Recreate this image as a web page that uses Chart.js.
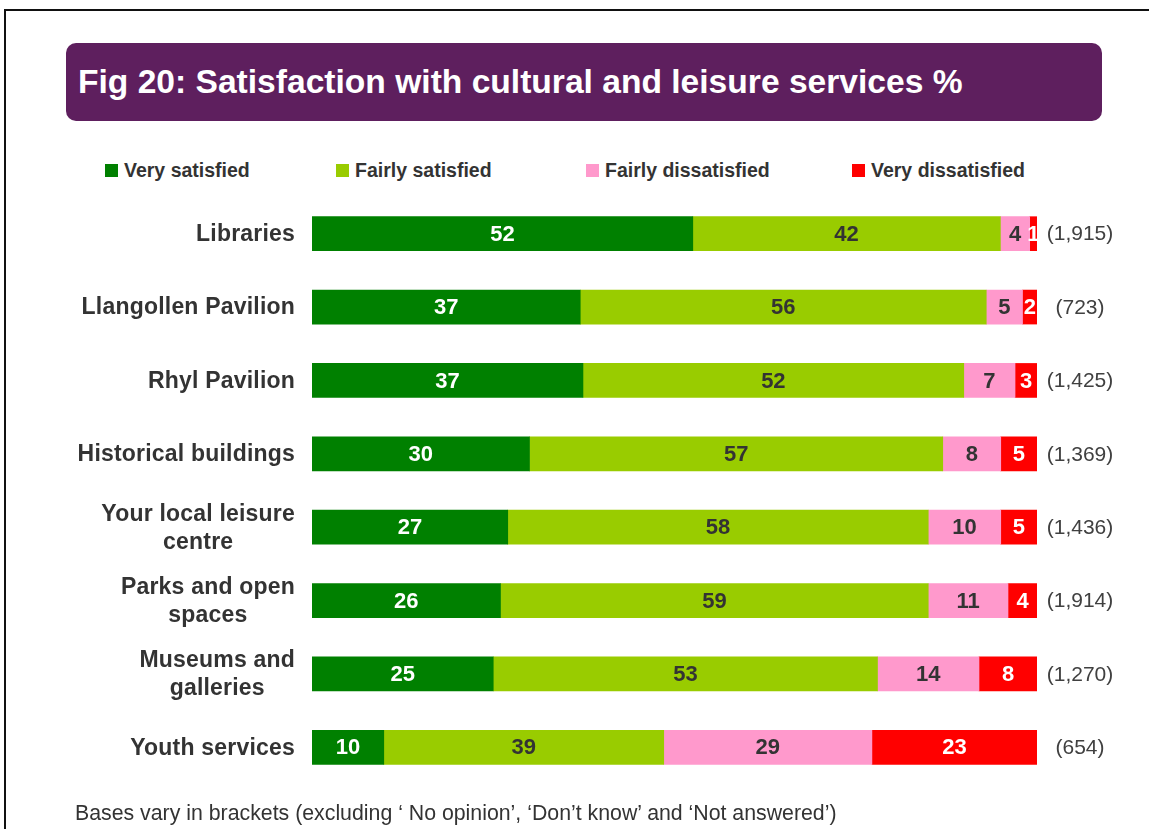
<!DOCTYPE html>
<html>
<head>
<meta charset="utf-8">
<script src="https://cdn.jsdelivr.net/npm/chart.js@4/dist/chart.umd.min.js"></script>
<style>
  html, body { margin: 0; padding: 0; background: #fff; }
  body { width: 1149px; height: 829px; position: relative; overflow: hidden; font-family: 'Liberation Sans', Arial, sans-serif; }
  #frame { position: absolute; left: 4px; top: 9px; width: 1160px; height: 840px; border-top: 2px solid #111; border-left: 2.5px solid #111; }
  #titlebox { position: absolute; left: 66px; top: 43px; width: 1036px; height: 78px; background: #5e1f5e; border-radius: 10px; }
  #title { position: absolute; left: 78px; top: 62px; color: #fff; font-weight: bold; font-size: 33.6px; line-height: 40px; white-space: nowrap; }
  #legend { position: absolute; left: 0; top: 158px; height: 24px; width: 1149px; }
  .item { position: absolute; top: 0; display: flex; align-items: center; height: 24px; white-space: nowrap; color: #333; font-weight: bold; font-size: 19.5px; }
  .sw { width: 13px; height: 13px; margin-right: 6px; }
  #foot { position: absolute; left: 75px; top: 800px; color: #333; font-size: 21.3px; line-height: 26px; white-space: nowrap; }
  canvas { position: absolute; left: 0; top: 0; }
</style>
</head>
<body>
<div id="frame"></div>
<div id="titlebox"></div>
<div id="title">Fig 20: Satisfaction with cultural and leisure services %</div>
<div id="legend"></div>
<canvas id="c" width="1149" height="829"></canvas>
<div id="foot">Bases vary in brackets (excluding ‘ No opinion’, ‘Don’t know’ and ‘Not answered’)</div>
<script>
const categories = [
  "Libraries",
  "Llangollen Pavilion",
  "Rhyl Pavilion",
  "Historical buildings",
  ["Your local leisure", "centre"],
  ["Parks and open", "spaces"],
  ["Museums and", "galleries"],
  "Youth services"
];
const seriesNames = ["Very satisfied", "Fairly satisfied", "Fairly dissatisfied", "Very dissatisfied"];
const verySatisfied      = [52, 37, 37, 30, 27, 26, 25, 10];
const fairlySatisfied    = [42, 56, 52, 57, 58, 59, 53, 39];
const fairlyDissatisfied = [4, 5, 7, 8, 10, 11, 14, 29];
const veryDissatisfied   = [1, 2, 3, 5, 5, 4, 8, 23];
const bases = [1915, 723, 1425, 1369, 1436, 1914, 1270, 654];

const colors = ["#008000", "#99cc00", "#ff99cc", "#ff0000"];
const labelColors = ["#ffffff", "#333333", "#333333", "#ffffff"];
const raw = [verySatisfied, fairlySatisfied, fairlyDissatisfied, veryDissatisfied];
const totals = categories.map((_, i) => raw.reduce((s, arr) => s + arr[i], 0));

const FONT = "'Liberation Sans', Arial, sans-serif";

const labelPlugin = {
  id: 'labels',
  afterDatasetsDraw(chart) {
    const ctx = chart.ctx;
    ctx.save();
    // values inside bars
    ctx.font = "bold 22px " + FONT;
    ctx.textAlign = 'center';
    ctx.textBaseline = 'middle';
    chart.data.datasets.forEach((ds, di) => {
      const meta = chart.getDatasetMeta(di);
      meta.data.forEach((el, i) => {
        ctx.fillStyle = labelColors[di];
        ctx.fillText(String(raw[di][i]), (el.x + el.base) / 2, el.y + 1);
      });
    });
    // category labels
    const yScale = chart.scales.y;
    ctx.fillStyle = '#333';
    ctx.font = "bold 23px " + FONT;
    if ('letterSpacing' in ctx) ctx.letterSpacing = '0.2px';
    const right = 295, lh = 28;
    categories.forEach((lab, i) => {
      const y = yScale.getPixelForValue(i);
      const lines = Array.isArray(lab) ? lab : [lab];
      const w = Math.max(...lines.map(l => ctx.measureText(l).width));
      const cx = right - w / 2;
      lines.forEach((l, k) => {
        ctx.textAlign = 'center';
        ctx.fillText(l, cx, y + (k - (lines.length - 1) / 2) * lh + 1);
      });
    });
    if ('letterSpacing' in ctx) ctx.letterSpacing = '0px';
    // bases
    ctx.font = "21px " + FONT;
    ctx.fillStyle = '#404040';
    ctx.textAlign = 'center';
    bases.forEach((b, i) => {
      const y = yScale.getPixelForValue(i);
      ctx.fillText('(' + b.toLocaleString('en-US') + ')', 1080, y + 1);
    });
    ctx.restore();
  }
};

const chart = new Chart(document.getElementById('c'), {
  type: 'bar',
  data: {
    labels: categories,
    datasets: seriesNames.map((name, di) => ({
      label: name,
      data: raw[di].map((v, i) => v / totals[i] * 100),
      backgroundColor: colors[di],
      borderWidth: 0,
      barThickness: 34
    }))
  },
  options: {
    indexAxis: 'y',
    responsive: false,
    animation: false,
    devicePixelRatio: 1,
    layout: { padding: { left: 312, right: 112, top: 197, bottom: 45 } },
    scales: {
      x: { stacked: true, min: 0, max: 100, display: false },
      y: { stacked: true, display: false }
    },
    plugins: { legend: { display: false }, tooltip: { enabled: false }, title: { display: false } }
  },
  plugins: [labelPlugin]
});

// legend from the chart's datasets
const legendLefts = [105, 336, 586, 852];
const legend = document.getElementById('legend');
chart.data.datasets.forEach((ds, i) => {
  const it = document.createElement('div');
  it.className = 'item';
  it.style.left = legendLefts[i] + 'px';
  const sw = document.createElement('span');
  sw.className = 'sw';
  sw.style.background = ds.backgroundColor;
  const tx = document.createElement('span');
  tx.textContent = ds.label;
  it.appendChild(sw); it.appendChild(tx);
  legend.appendChild(it);
});
</script>
</body>
</html>
